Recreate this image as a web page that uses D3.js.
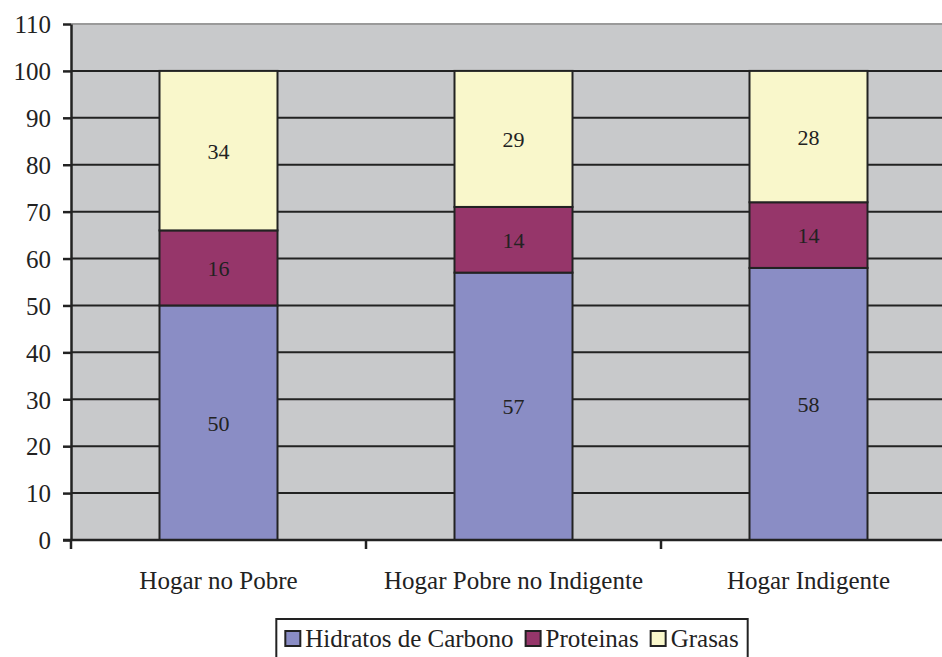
<!DOCTYPE html>
<html><head><meta charset="utf-8">
<script src="https://cdn.jsdelivr.net/npm/d3@7"></script>
<style>body{margin:0;background:#fff}svg{display:block}
svg text{font-family:"Times New Roman",Times,"Liberation Serif","Noto Serif","DejaVu Serif",FreeSerif,Tinos,serif !important;}</style>
</head><body>
<script>
const categories = ["Hogar no Pobre", "Hogar Pobre no Indigente", "Hogar Indigente"];
const seriesNames = ["Hidratos de Carbono", "Proteinas", "Grasas"];
const hidratos = [50, 57, 58];
const proteinas = [16, 14, 14];
const grasas = [34, 29, 28];
const yTicks = [0,10,20,30,40,50,60,70,80,90,100,110];
const colors = ["#8A8DC5", "#96366A", "#F9F7CB"];

const W = 942, H = 657;
const svg = d3.select("body").append("svg").attr("width", W).attr("height", H);

const x0 = 71, x1 = 956, yTop = 24, yBot = 540;
const x = d3.scaleBand().domain(categories).range([x0, x1]).paddingInner(0.6).paddingOuter(0.3);
const y = d3.scaleLinear().domain([0, 110]).range([yBot, yTop]);

svg.append("rect").attr("x", x0).attr("y", yTop).attr("width", x1 - x0).attr("height", yBot - yTop).attr("fill", "#C8C9CB");
svg.append("line").attr("x1", x0).attr("x2", x1).attr("y1", yTop).attr("y2", yTop).attr("stroke", "#9a9a9a").attr("stroke-width", 2);

svg.append("g").selectAll("line").data(yTicks.filter(d => d > 0 && d < 110)).join("line")
  .attr("x1", x0).attr("x2", x1).attr("y1", d => y(d)).attr("y2", d => y(d))
  .attr("stroke", "#222").attr("stroke-width", 2);

const rows = categories.map((c, i) => ({cat: c, "Hidratos de Carbono": hidratos[i], "Proteinas": proteinas[i], "Grasas": grasas[i]}));
const stack = d3.stack().keys(seriesNames)(rows);

const g = svg.append("g");
stack.forEach((s, si) => {
  g.append("g").selectAll("rect").data(s).join("rect")
    .attr("x", d => x(d.data.cat)).attr("width", x.bandwidth())
    .attr("y", d => y(d[1])).attr("height", d => y(d[0]) - y(d[1]))
    .attr("fill", colors[si]).attr("stroke", "#222").attr("stroke-width", 2);
});
stack.forEach((s, si) => {
  g.append("g").selectAll("text").data(s).join("text")
    .attr("x", d => x(d.data.cat) + x.bandwidth() / 2)
    .attr("y", d => (y(d[0]) + y(d[1])) / 2 + 8)
    .attr("text-anchor", "middle").style("font-size", "22px").attr("fill", "#222")
    .text(d => d[1] - d[0]);
});

const yAxis = d3.axisLeft(y).tickValues(yTicks).tickSize(8).tickSizeOuter(0);
const ya = svg.append("g").attr("transform", `translate(${x0},0)`).call(yAxis);
ya.select(".domain").attr("stroke", "#222").attr("stroke-width", 2.5);
ya.selectAll(".tick line").attr("stroke", "#222").attr("stroke-width", 2.5);
ya.selectAll("text").style("font-size", "25px").attr("fill", "#222").attr("x", -20).attr("dy", "0.35em");

svg.append("line").attr("x1", x0 - 8).attr("x2", x1).attr("y1", yBot).attr("y2", yBot).attr("stroke", "#222").attr("stroke-width", 2.5);
const boundaries = d3.range(categories.length + 1).map(i => x0 + i * (x1 - x0) / categories.length);
svg.append("g").selectAll("line").data(boundaries).join("line")
  .attr("x1", d => d).attr("x2", d => d).attr("y1", yBot).attr("y2", yBot + 9)
  .attr("stroke", "#222").attr("stroke-width", 2.5);
svg.append("g").selectAll("text").data(categories).join("text")
  .attr("x", d => x(d) + x.bandwidth() / 2).attr("y", 589)
  .attr("text-anchor", "middle").style("font-size", "25px").attr("fill", "#222")
  .text(d => d);

// legend laid out from measured text widths
const lg = svg.append("g");
const box = lg.append("rect").attr("y", 619).attr("height", 50)
  .attr("fill", "#fff").attr("stroke", "#222").attr("stroke-width", 2);
let cx = 0;
const items = [];
seriesNames.forEach((n, i) => {
  const it = lg.append("g");
  it.append("rect").attr("x", 0).attr("y", 631).attr("width", 15).attr("height", 15)
    .attr("fill", colors[i]).attr("stroke", "#222").attr("stroke-width", 2);
  const t = it.append("text").attr("x", 20).attr("y", 647).style("font-size", "25px").attr("fill", "#222").text(n);
  const w = 20 + t.node().getComputedTextLength();
  items.push({it, off: cx});
  cx += w + 12;
});
const total = cx - 12;
const bx0 = 512 - total / 2;
items.forEach(d => d.it.attr("transform", `translate(${bx0 + d.off},0)`));
box.attr("x", bx0 - 9).attr("width", total + 18);
</script>
</body></html>
